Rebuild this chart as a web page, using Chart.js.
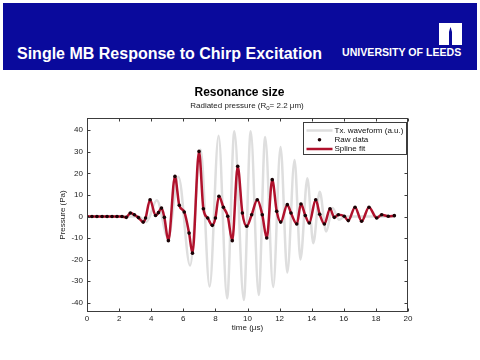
<!DOCTYPE html>
<html><head><meta charset="utf-8">
<script src="https://cdn.jsdelivr.net/npm/chart.js@4"></script>
<style>
html,body{margin:0;padding:0;background:#fff;}
#wrap{position:relative;width:480px;height:360px;overflow:hidden;font-family:"Liberation Sans",Arial,sans-serif;}
#band{position:absolute;left:3px;top:3px;width:474px;height:67px;background:#0a0a9c;}
#slideTitle{position:absolute;left:17px;top:45.5px;color:#fff;font-weight:bold;font-size:16px;line-height:16px;white-space:nowrap;}
#leeds{position:absolute;left:342px;top:47px;color:#fff;font-weight:bold;font-size:10.6px;line-height:11px;white-space:nowrap;}
#logo{position:absolute;left:439px;top:23px;}
#chartTitle{position:absolute;left:139.5px;width:200px;top:86px;text-align:center;font-weight:bold;font-size:12px;line-height:12px;color:#000;}
#chartSub{position:absolute;left:147px;width:200px;top:101.7px;text-align:center;font-size:8px;line-height:8px;color:#222;white-space:nowrap;}
#chartSub sub{font-size:6px;vertical-align:-2px;line-height:0;}
canvas{position:absolute;left:0;top:0;}
</style></head>
<body>
<div id="wrap">
<canvas id="c" width="480" height="360"></canvas>
<div id="band"></div>
<div id="slideTitle">Single MB Response to Chirp Excitation</div>
<div id="leeds">UNIVERSITY OF LEEDS</div>
<svg id="logo" width="23" height="22" viewBox="0 0 23 22"><rect x="0" y="0" width="23" height="22" fill="#fff"/><path d="M10 22 L10 9 L10.8 6 L11.5 4 L12.2 6 L13 9 L13 22 Z" fill="#0a0a9c"/></svg>
<div id="chartTitle">Resonance size</div>
<div id="chartSub">Radiated pressure (R<sub>0</sub>= 2.2 μm)</div>
</div>
<script>
// ---- data ----
const xTicks = [0, 2, 4, 6, 8, 10, 12, 14, 16, 18, 20];
const yTicks = [-40, -30, -20, -10, 0, 10, 20, 30, 40];

const txTime = [0, 3.2, 3.7, 4.35, 5.05, 5.7, 6.42, 7.08, 7.64, 8.2, 8.73, 9.18, 9.77, 10.2, 10.7, 11.1, 11.6, 12.06, 12.48, 12.93, 13.3, 13.73, 14.1, 14.5, 14.9, 15.3, 15.7, 16.1, 19.2];
const txPressure = [0, 0, -2.5, 7.5, -10, 18.5, -22.7, 31, -32.5, 37.5, -38, 39.5, -38.7, 39.5, -36.4, 36.9, -32.7, 32.3, -26, 26.2, -19.9, 17.7, -12.4, 11.5, -7, 4, -1.5, 0, 0];

const rawTime = [0, 0.31, 0.62, 0.94, 1.25, 1.56, 1.87, 2.18, 2.45, 2.7, 2.95, 3.2, 3.5, 3.65, 3.93, 4.27, 4.45, 4.64, 4.82, 5.07, 5.48, 5.75, 6.06, 6.36, 6.57, 6.98, 7.25, 7.52, 7.81, 8.0, 8.22, 8.5, 8.77, 9.05, 9.39, 9.68, 9.95, 10.26, 10.61, 10.92, 11.2, 11.54, 11.82, 12.07, 12.48, 12.71, 13.07, 13.33, 13.6, 13.85, 14.25, 14.5, 14.79, 15.14, 15.41, 15.66, 16.03, 16.28, 16.7, 17.11, 17.57, 18.05, 18.36, 18.77, 19.15];
const rawPressure = [0, 0, 0, 0, 0, 0, 0, 0, -0.4, 1.6, 0.8, -0.5, -2.6, -0.7, 7.8, 0.5, 1.8, 3.9, -0.4, -11.2, 18.6, 5.2, 2.1, -7.7, -17, 30.2, 3.6, -0.7, -4.1, -0.7, 9.4, 4.3, 0.1, -11.2, 23.3, 1.6, -4.5, 0.8, 7.8, 0.8, -10, 17.1, 2.4, -2.6, 5.5, 1.6, -3.5, 5.8, 0.5, -3, 7.8, 1, -3.5, 3.6, -0.4, 0.8, 0.1, -1.9, 4.3, -2.2, 4.3, -0.7, 0.8, 0.1, 0.4];

const seriesLabels = ['Tx. waveform (a.u.)', 'Raw data', 'Spline fit'];
const axisTitles = {x: 'time (μs)', y: 'Pressure (Pa)'};

// ---- chart ----
const FONT = "'Liberation Sans', Arial, sans-serif";
Chart.defaults.font.family = FONT;
const toXY = (xs, ys) => xs.map((v, i) => ({x: v, y: ys[i]}));

const framePlugin = {
  id: 'frame',
  afterDraw(chart) {
    const {ctx, chartArea: a, scales: {x, y}} = chart;
    ctx.save();
    ctx.strokeStyle = '#3c3c3c';
    ctx.lineWidth = 1;
    const L = Math.round(a.left) + 0.5, R = Math.round(a.right) - 0.5;
    const T = Math.round(a.top) + 0.5, B = Math.round(a.bottom) - 0.5;
    ctx.strokeRect(L, T, R - L, B - T);
    ctx.beginPath();
    const tl = 3;
    x.ticks.forEach(t => { const p = Math.round(x.getPixelForValue(t.value)) + 0.5; ctx.moveTo(p, B); ctx.lineTo(p, B - tl); ctx.moveTo(p, T); ctx.lineTo(p, T + tl); });
    y.ticks.forEach(t => { const p = Math.round(y.getPixelForValue(t.value)) + 0.5; ctx.moveTo(L, p); ctx.lineTo(L + tl, p); ctx.moveTo(R, p); ctx.lineTo(R - tl, p); });
    ctx.stroke();
    // legend box
    const bw = 103, bh = 32;
    const bx = Math.round(a.right) - 1.5 - bw, by = Math.round(a.top) + 4.5;
    ctx.fillStyle = '#fff';
    ctx.fillRect(bx, by, bw, bh);
    ctx.strokeRect(bx, by, bw, bh);
    ctx.font = '8px ' + FONT;
    ctx.textBaseline = 'middle';
    ctx.textAlign = 'left';
    const rows = [8, 17.3, 26.5];
    chart.data.datasets.forEach((ds, i) => {
      const cy = by + rows[i];
      if (ds.showLine) {
        ctx.beginPath();
        ctx.strokeStyle = ds.borderColor;
        ctx.lineWidth = ds.borderWidth;
        ctx.moveTo(bx + 3, cy); ctx.lineTo(bx + 29, cy);
        ctx.stroke();
      } else {
        ctx.beginPath();
        ctx.fillStyle = ds.pointBackgroundColor;
        ctx.arc(bx + 16, cy, ds.pointRadius, 0, Math.PI * 2);
        ctx.fill();
      }
      ctx.fillStyle = '#111';
      ctx.fillText(ds.label, bx + 31, cy);
    });
    ctx.restore();
  }
};

new Chart(document.getElementById('c'), {
  type: 'scatter',
  data: {
    datasets: [
      {label: seriesLabels[0], data: toXY(txTime, txPressure), showLine: true, borderColor: '#dedede', borderWidth: 2.5, pointRadius: 0, cubicInterpolationMode: 'monotone', order: 2},
      {label: seriesLabels[1], data: toXY(rawTime, rawPressure), showLine: false, pointRadius: 1.8, pointBackgroundColor: '#1a0306', pointBorderWidth: 0, borderColor: '#1a0306', order: 0},
      {label: seriesLabels[2], data: toXY(rawTime, rawPressure), showLine: true, borderColor: '#b0112c', borderWidth: 2.5, pointRadius: 0, cubicInterpolationMode: 'monotone', order: 1}
    ]
  },
  options: {
    responsive: false,
    animation: false,
    devicePixelRatio: 1,
    events: [],
    layout: {padding: {left: 50, top: 118, right: 72, bottom: 24}},
    plugins: {legend: {display: false}, tooltip: {enabled: false}},
    scales: {
      x: {
        type: 'linear', min: 0, max: 20,
        afterBuildTicks: s => { s.ticks = xTicks.map(v => ({value: v})); },
        ticks: {font: {size: 8}, color: '#222', padding: 2, maxRotation: 0, includeBounds: false},
        grid: {display: false, drawTicks: false},
        border: {display: false},
        title: {display: true, text: axisTitles.x, font: {size: 8}, color: '#222', padding: {top: 0, bottom: 3.2}},
        afterFit: s => { s.height = 24; }
      },
      y: {
        type: 'linear', min: -44.3, max: 45.7,
        afterBuildTicks: s => { s.ticks = yTicks.map(v => ({value: v})); },
        ticks: {font: {size: 8}, color: '#222', padding: 4, includeBounds: false},
        grid: {display: false, drawTicks: false},
        border: {display: false},
        title: {display: true, text: axisTitles.y, font: {size: 8}, color: '#222', padding: {top: 8, bottom: 0}},
        afterFit: s => { s.width = 37; }
      }
    }
  },
  plugins: [framePlugin]
});
</script>
</body></html>
